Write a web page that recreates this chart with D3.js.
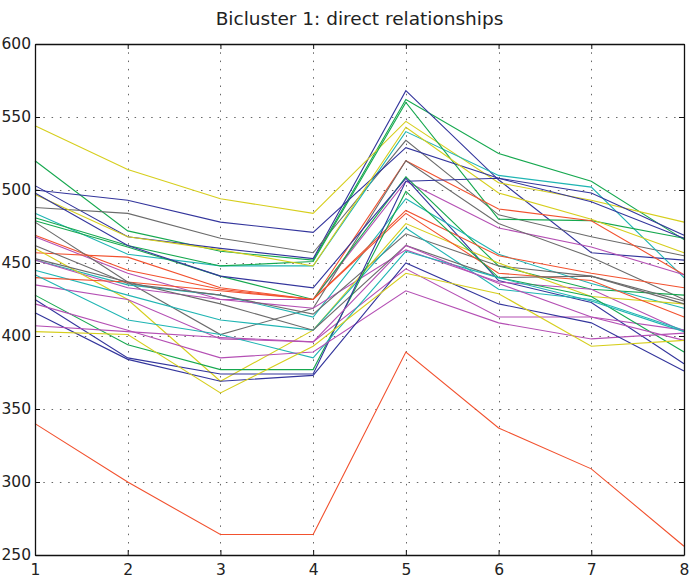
<!DOCTYPE html>
<html>
<head>
<meta charset="utf-8">
<script src="https://cdn.jsdelivr.net/npm/d3@7/dist/d3.min.js"></script>
<style>
  html, body { margin: 0; padding: 0; background: #fff; }
  svg { display: block; }
  text { font-family: "DejaVu Sans", "Liberation Sans", Arial, sans-serif; fill: #222; }
</style>
</head>
<body>
<svg id="chart" width="697" height="583"></svg>
<script>
// Conditions along the x axis
const conditions = [1, 2, 3, 4, 5, 6, 7, 8];
const yTicks = [250, 300, 350, 400, 450, 500, 550, 600];
const chartTitle = "Bicluster 1: direct relationships";

// Colour cycle used for the profiles
const palette = {
  b: "#33359c", g: "#16a84f", r: "#f2512e", c: "#1fb5b3",
  m: "#b44fb4", y: "#d6ce1c", k: "#6b6b6b"
};

// Expression profiles of the bicluster, one row per gene
const yellow1  = [544, 514, 494, 484, 547, 505, 493, 478];
const yellow2  = [497, 468, 459, 448, 543, 498, 480, 457];
const yellow3  = [460, 425, 369, 404, 477, 450, 427, 422];
const yellow4  = [403, 401, 361, 393, 443, 429, 393, 397];
const green1   = [520, 472, 458, 452, 562, 525, 506, 466];
const green2   = [481, 462, 448, 451, 560, 480, 479, 467];
const green3   = [479, 461, 441, 425, 509, 448, 432, 428];
const green4   = [428, 394, 377, 377, 499, 440, 427, 389];
const blue1    = [503, 468, 460, 453, 568, 507, 457, 452];
const blue2    = [500, 493, 478, 471, 529, 508, 498, 469];
const blue3    = [498, 462, 441, 433, 508, 438, 423, 381];
const blue4    = [425, 385, 374, 374, 506, 508, 492, 467];
const blue5    = [416, 384, 369, 373, 450, 422, 409, 376];
const red1     = [469, 445, 432, 425, 520, 487, 479, 442];
const red2     = [457, 454, 433, 425, 486, 455, 443, 433];
const red3     = [440, 437, 431, 425, 484, 443, 438, 413];
const redLow   = [340, 300, 264, 264, 389, 337, 309, 256];
const cyan1    = [484, 456, 448, 448, 540, 510, 502, 440];
const cyan2    = [452, 435, 428, 413, 494, 456, 436, 419];
const cyan3    = [445, 428, 411, 404, 474, 432, 425, 404];
const cyan4    = [442, 411, 401, 385, 458, 440, 424, 403];
const magenta1 = [468, 443, 425, 425, 506, 474, 461, 442];
const magenta2 = [452, 433, 425, 419, 459, 437, 432, 403];
const magenta3 = [435, 425, 398, 396, 446, 413, 413, 404];
const magenta4 = [422, 404, 385, 389, 431, 409, 398, 402];
const magenta5 = [407, 403, 399, 396, 462, 436, 413, 397];
const gray1    = [488, 484, 467, 457, 534, 483, 468, 455];
const gray2    = [478, 437, 401, 419, 520, 477, 454, 425];
const gray3    = [462, 436, 428, 415, 470, 448, 441, 424];
const gray4    = [453, 437, 422, 404, 462, 440, 441, 422];

const profiles = [
  { c: "g", v: green1 }, { c: "b", v: blue1 }, { c: "y", v: yellow1 },
  { c: "k", v: gray1 }, { c: "c", v: cyan1 }, { c: "g", v: green2 },
  { c: "b", v: blue2 }, { c: "y", v: yellow2 }, { c: "r", v: red1 },
  { c: "m", v: magenta1 }, { c: "k", v: gray2 }, { c: "g", v: green3 },
  { c: "b", v: blue3 }, { c: "c", v: cyan2 }, { c: "r", v: red2 },
  { c: "m", v: magenta2 }, { c: "k", v: gray3 }, { c: "y", v: yellow3 },
  { c: "c", v: cyan3 }, { c: "r", v: red3 }, { c: "m", v: magenta3 },
  { c: "k", v: gray4 }, { c: "g", v: green4 }, { c: "b", v: blue4 },
  { c: "c", v: cyan4 }, { c: "m", v: magenta4 }, { c: "b", v: blue5 },
  { c: "m", v: magenta5 }, { c: "y", v: yellow4 }, { c: "r", v: redLow }
];

const svg = d3.select("#chart");
const m = { left: 35, right: 13, top: 44, bottom: 28 };
const W = 697, H = 583;
const x = d3.scaleLinear().domain([1, 8]).range([m.left, W - m.right]);
const y = d3.scaleLinear().domain([250, 600]).range([H - m.bottom, m.top]);

svg.append("rect").attr("width", W).attr("height", H).attr("fill", "#fff");

// dotted grid
const grid = svg.append("g").attr("stroke", "#666").attr("stroke-width", 1)
  .attr("stroke-dasharray", "1.5,6.8");
grid.selectAll(".gx").data(conditions.slice(1, -1)).join("line")
  .attr("x1", d => Math.round(x(d)) + 0.5).attr("x2", d => Math.round(x(d)) + 0.5)
  .attr("y1", y(600)).attr("y2", y(250));
grid.selectAll(".gy").data(yTicks.slice(1, -1)).join("line")
  .attr("y1", d => Math.round(y(d)) + 0.5).attr("y2", d => Math.round(y(d)) + 0.5)
  .attr("x1", x(1)).attr("x2", x(8));

// profile lines
const line = d3.line().x((d, i) => x(conditions[i])).y(d => y(d));
svg.append("g").selectAll("path").data(profiles).join("path")
  .attr("d", d => line(d.v))
  .attr("fill", "none")
  .attr("stroke", d => palette[d.c])
  .attr("stroke-width", 1.1);

// axes: inward ticks on all four sides, boxed
const tickLen = 5;
const fmt = d3.format("d");
const axB = d3.axisBottom(x).tickValues(conditions).tickFormat(fmt)
  .tickSizeInner(-tickLen).tickSizeOuter(0).tickPadding(9);
const axT = d3.axisTop(x).tickValues(conditions).tickSizeInner(-tickLen).tickSizeOuter(0).tickFormat("");
const axL = d3.axisLeft(y).tickValues(yTicks).tickFormat(fmt)
  .tickSizeInner(-tickLen).tickSizeOuter(0).tickPadding(4);
const axR = d3.axisRight(y).tickValues(yTicks).tickSizeInner(-tickLen).tickSizeOuter(0).tickFormat("");

function styleAxis(g) {
  g.select(".domain").attr("stroke", "#111").attr("stroke-width", 1.3);
  g.selectAll(".tick line").attr("stroke", "#111");
  g.selectAll("text").attr("font-size", 15.5).attr("fill", "#222")
    .attr("font-family", "'DejaVu Sans', 'Liberation Sans', sans-serif");
}
svg.append("g").attr("transform", `translate(0,${y(250)})`).call(axB).call(styleAxis);
svg.append("g").attr("transform", `translate(0,${y(600)})`).call(axT).call(styleAxis);
svg.append("g").attr("transform", `translate(${x(1)},0)`).call(axL).call(styleAxis);
svg.append("g").attr("transform", `translate(${x(8)},0)`).call(axR).call(styleAxis);

// title
svg.append("text")
  .attr("x", (x(1) + x(8)) / 2).attr("y", 25)
  .attr("text-anchor", "middle")
  .attr("font-size", 18.5)
  .text(chartTitle);
</script>
</body>
</html>
